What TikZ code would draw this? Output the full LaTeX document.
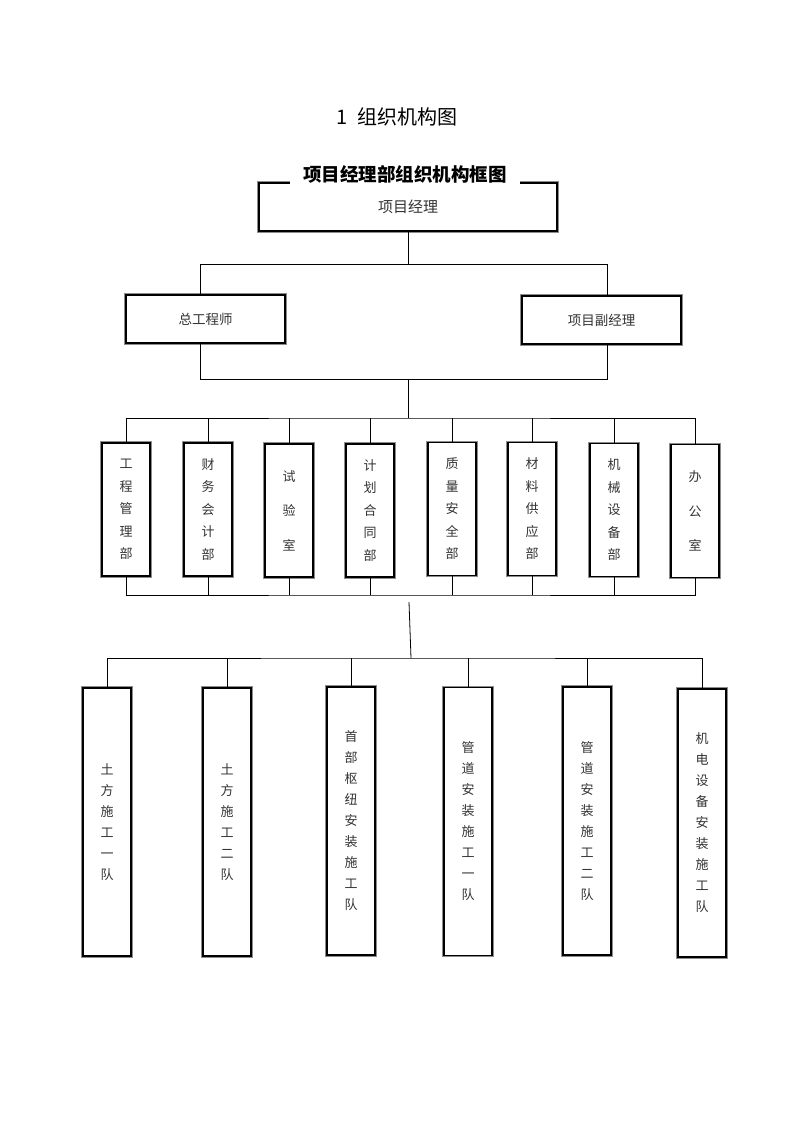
\documentclass[tikz,border=0pt]{standalone}
\usepackage{fontspec}
\setmainfont{Noto Sans CJK SC}
\usepackage{tikz}
\usetikzlibrary{arrows.meta}

\begin{document}
\begin{tikzpicture}[x=1pt, y=-1pt,
		unit/.style={rectangle, draw=black, line width=1.5pt, preaction={draw=black!45, line width=3.6pt}, fill=white, inner sep=0pt, text=black!80, align=center, font=\fontsize{13}{22.5}\selectfont},
		head/.style={unit, minimum width=298pt, minimum height=48pt, font=\fontsize{15}{18}\selectfont},
		deputy/.style={unit, minimum width=159pt, minimum height=48pt, font=\fontsize{13.5}{18}\selectfont},
		dept/.style={unit, minimum width=48pt, minimum height=133pt},
		team/.style={unit, minimum width=48pt, minimum height=268pt, font=\fontsize{13}{21}\selectfont},
		link/.style={draw=black, line width=0.8pt}]
		\fill[white] (0,0) rectangle (793,1122);
		\useasboundingbox (0,0) rectangle (793,1122);
		\node[font=\fontsize{20}{24}\selectfont] (0) at (397,117) {1\hspace{0.45em}组织机构图};
		\node[head] (1) at (408,207) {项目经理};
		\node[fill=white, inner xsep=13pt, inner ysep=4pt, font=\bfseries\fontsize{18.5}{20}\selectfont] (t) at (405,174) {项目经理部组织机构框图};
		\node[deputy] (2) at (205.5,319) {总工程师};
		\node[deputy] (3) at (601.5,320) {项目副经理};
		\node[dept] (4) at (126,509.5) {工\\程\\管\\理\\部};
		\node[dept] (5) at (208,509.5) {财\\务\\会\\计\\部};
		\node[dept] (6) at (289,510.5) {试\\[12pt]验\\[12pt]室};
		\node[dept] (7) at (370,510.5) {计\\划\\合\\同\\部};
		\node[dept] (8) at (452,509) {质\\量\\安\\全\\部};
		\node[dept] (9) at (532,509) {材\\料\\供\\应\\部};
		\node[dept] (10) at (614,510) {机\\械\\设\\备\\部};
		\node[dept] (11) at (695,511) {办\\[12pt]公\\[12pt]室};
		\node[team] (12) at (107,822) {土\\方\\施\\工\\一\\队};
		\node[team] (13) at (227,822) {土\\方\\施\\工\\二\\队};
		\node[team] (14) at (351,821) {首\\部\\枢\\纽\\安\\装\\施\\工\\队};
		\node[team] (15) at (468,821.5) {管\\道\\安\\装\\施\\工\\一\\队};
		\node[team] (16) at (587,821) {管\\道\\安\\装\\施\\工\\二\\队};
		\node[team] (17) at (702,823) {机\\电\\设\\备\\安\\装\\施\\工\\队};
		
		\coordinate (b1) at (408,264);
		\coordinate (b1l) at (200,264);
		\coordinate (b1r) at (607,264);
		\coordinate (b2) at (408,379);
		\coordinate (b2l) at (200,379);
		\coordinate (b2r) at (607,379);
		\coordinate (b3) at (408,418);
		\coordinate (b4) at (408,595);
		\coordinate (g) at (409,602);
		\coordinate (b5) at (411,658);
		
		\draw[link] (1.south) -- (b1);
		\draw[link] (b1l |- 2.north) -- (b1l) -- (b1r) -- (b1r |- 3.north);
		\draw[link] (b2l |- 2.south) -- (b2l) -- (b2r) -- (b2r |- 3.south);
		\draw[link] (b2) -- (b3);
		\draw[link] (4.north) |- (b3) -| (11.north);
		\draw[link] (5.north) -- (5.north |- b3);
		\draw[link] (6.north) -- (6.north |- b3);
		\draw[link] (7.north) -- (7.north |- b3);
		\draw[link] (8.north) -- (8.north |- b3);
		\draw[link] (9.north) -- (9.north |- b3);
		\draw[link] (10.north) -- (10.north |- b3);
		\draw[link] (4.south) |- (b4) -| (11.south);
		\draw[link] (5.south) -- (5.south |- b4);
		\draw[link] (6.south) -- (6.south |- b4);
		\draw[link] (7.south) -- (7.south |- b4);
		\draw[link] (8.south) -- (8.south |- b4);
		\draw[link] (9.south) -- (9.south |- b4);
		\draw[link] (10.south) -- (10.south |- b4);
		\draw[link] (g) -- (b5);
		\draw[link] (12.north) |- (b5) -| (17.north);
		\draw[link] (13.north) -- (13.north |- b5);
		\draw[link] (14.north) -- (14.north |- b5);
		\draw[link] (15.north) -- (15.north |- b5);
		\draw[link] (16.north) -- (16.north |- b5);
		
	\end{tikzpicture}
\end{document}
